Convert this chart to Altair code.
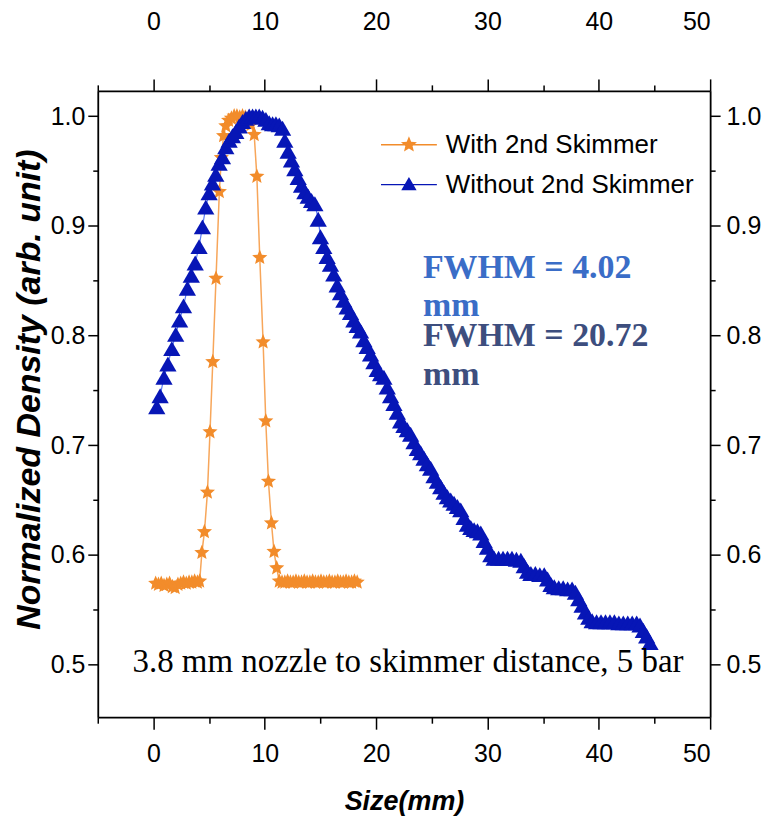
import altair as alt
import pandas as pd

# ---------------- data ----------------
with_x = [0.20, 0.45, 0.70, 0.95, 1.20, 1.45, 1.70, 1.95, 2.20, 2.45,
          2.70, 2.95, 3.20, 3.45, 3.70, 3.95, 4.15,
          4.35, 4.58, 4.85, 5.08, 5.33, 5.62, 5.92,
          6.10, 6.30, 6.50, 6.75, 7.00, 7.25, 7.50, 7.75, 8.00, 8.25, 8.50, 8.75,
          9.05, 9.29, 9.55, 9.85, 10.09, 10.33, 10.60, 10.83, 11.07,
          11.30, 11.55, 11.80, 12.05, 12.30, 12.55, 12.80, 13.05, 13.30, 13.55,
          13.80, 14.05, 14.30, 14.55, 14.80, 15.05, 15.30, 15.55, 15.80, 16.05,
          16.30, 16.55, 16.80, 17.05, 17.30, 17.55, 17.80, 18.05, 18.30]
with_y = [0.574, 0.573, 0.574, 0.572, 0.573, 0.574, 0.571, 0.570, 0.573, 0.574,
          0.575, 0.574, 0.575, 0.575, 0.576, 0.575, 0.576,
          0.602, 0.621, 0.657, 0.712, 0.776, 0.852, 0.931,
          0.962, 0.982, 0.991, 0.996, 0.998, 1.000, 1.000, 0.999, 1.000, 0.999, 0.996, 0.992,
          0.983, 0.945, 0.871, 0.794, 0.722, 0.667, 0.629, 0.603, 0.588,
          0.576, 0.575, 0.575, 0.576, 0.575, 0.575, 0.576, 0.575, 0.575, 0.576,
          0.575, 0.575, 0.576, 0.575, 0.575, 0.576, 0.575, 0.575, 0.576, 0.575,
          0.575, 0.576, 0.575, 0.575, 0.576, 0.575, 0.575, 0.576, 0.575]

without_x = [0.30, 0.60, 0.95, 1.30, 1.65, 2.00, 2.35, 2.70, 3.05, 3.40,
             3.75, 4.10, 4.40, 4.70, 5.00, 5.30, 5.60, 5.90, 6.20, 6.50,
             6.80, 7.10, 7.40, 7.70, 8.00, 8.30, 8.60, 8.90, 9.20, 9.50,
             9.80, 10.10, 10.40, 10.70, 11.00, 11.30, 11.60, 11.80, 12.10, 12.40,
             12.70, 13.00, 13.30, 13.60, 13.90, 14.20, 14.50, 14.80, 15.00, 15.30,
             15.60, 15.90, 16.20, 16.50, 16.80, 17.10, 17.40, 17.70, 18.00, 18.30,
             18.60, 18.90, 19.20, 19.50, 19.80, 20.10, 20.40, 20.70, 21.00, 21.30,
             21.60, 21.90, 22.20, 22.50, 22.80, 23.10, 23.40, 23.70, 24.00, 24.30,
             24.60, 24.90, 25.20, 25.50, 25.80, 26.10, 26.40, 26.70, 27.00, 27.30,
             27.60, 27.90, 28.20, 28.50, 28.80, 29.10, 29.40, 29.70, 30.00, 30.30,
             30.60, 31.00, 31.40, 31.80, 32.20, 32.60, 33.00, 33.30, 33.60, 33.90,
             34.30, 34.70, 35.10, 35.40, 35.70, 36.00, 36.40, 36.80, 37.20, 37.60,
             37.90, 38.20, 38.50, 38.80, 39.10, 39.40, 39.80, 40.20, 40.60, 41.00,
             41.40, 41.80, 42.20, 42.60, 43.00, 43.40, 43.70, 44.00, 44.30, 44.60]
without_y = [0.735, 0.745, 0.762, 0.774, 0.788, 0.801, 0.814, 0.827, 0.843, 0.855,
             0.866, 0.881, 0.899, 0.917, 0.930, 0.939, 0.947, 0.957, 0.963, 0.972,
             0.978, 0.982, 0.986, 0.991, 0.995, 0.998, 1.000, 1.000, 1.000, 1.000,
             0.999, 0.997, 0.994, 0.993, 0.993, 0.992, 0.989, 0.978, 0.968, 0.960,
             0.952, 0.944, 0.937, 0.931, 0.927, 0.923, 0.920, 0.906, 0.890, 0.881,
             0.872, 0.865, 0.856, 0.846, 0.839, 0.832, 0.826, 0.821, 0.814, 0.809,
             0.804, 0.796, 0.790, 0.783, 0.776, 0.769, 0.765, 0.762, 0.753, 0.745,
             0.738, 0.730, 0.722, 0.718, 0.714, 0.710, 0.703, 0.697, 0.693, 0.688,
             0.683, 0.679, 0.672, 0.667, 0.662, 0.657, 0.653, 0.650, 0.647, 0.644,
             0.641, 0.634, 0.628, 0.625, 0.623, 0.622, 0.620, 0.613, 0.607, 0.600,
             0.597, 0.597, 0.597, 0.597, 0.597, 0.596, 0.595, 0.590, 0.585, 0.583,
             0.583, 0.582, 0.582, 0.578, 0.573, 0.571, 0.570, 0.570, 0.569, 0.569,
             0.566, 0.560, 0.554, 0.548, 0.543, 0.540, 0.539, 0.539, 0.539, 0.539,
             0.539, 0.538, 0.538, 0.538, 0.538, 0.538, 0.536, 0.531, 0.526, 0.520]

series_names = ["With 2nd Skimmer", "Without 2nd Skimmer"]
x_major_ticks = [0, 10, 20, 30, 40, 50]
x_minor_ticks = [-5, 5, 15, 25, 35, 45]
y_major_ticks = [0.5, 0.6, 0.7, 0.8, 0.9, 1.0]
y_minor_ticks = [0.55, 0.65, 0.75, 0.85, 0.95]
x_domain = [-5, 50]
y_domain = [0.452, 1.023]

fwhm_text = ["FWHM = 4.02\nmm", "FWHM = 20.72\nmm"]
fwhm_x = [24.2, 24.2]
fwhm_y = [0.852, 0.790]
note_text = ["3.8 mm nozzle to skimmer distance, 5 bar"]
note_x = [22.86]
note_y = [0.493]

# ---------------- styles ----------------
ORANGE = "#F28C2B"
ORANGE_LINE = "#F7A65A"
BLUE = "#0716B6"
BLUE_LINE = "#5A7BF2"
FWHM_COLORS = ["#3A6DC7", "#3D4E7E"]
SANS = "Liberation Sans, Arial, sans-serif"
SERIF = "Liberation Serif, Times New Roman, serif"

STAR = ("M0,-1L0.2645,-0.3641L0.9511,-0.309L0.428,0.1391L0.5878,0.809L0,0.45"
        "L-0.5878,0.809L-0.428,0.1391L-0.9511,-0.309L-0.2645,-0.3641Z")
STAR_LEG = ("M-2,-0.05L2,-0.05L2,0.05L-2,0.05Z "
            "M0,-0.6L0.1587,-0.2184L0.5706,-0.1854L0.2568,0.0834L0.3527,0.4854"
            "L0,0.27L-0.3527,0.4854L-0.2568,0.0834L-0.5706,-0.1854L-0.1587,-0.2184Z")
TRI_LEG = "M-2,-0.05L2,-0.05L2,0.05L-2,0.05Z M0,-0.55L0.55,0.4L-0.55,0.4Z"

df_with = pd.DataFrame({"x": with_x, "y": with_y})
df_without = pd.DataFrame({"x": without_x, "y": without_y})

xs = alt.Scale(domain=x_domain, nice=False, zero=False)
ys = alt.Scale(domain=y_domain, nice=False, zero=False)

common_axis = dict(grid=False, domainColor="black", domainWidth=1.8, tickColor="black",
                   tickWidth=1.5, labelColor="black", labelFont=SANS, labelFontSize=25)


def x_major(orient, pad):
    return alt.Axis(orient=orient, values=x_major_ticks, tickSize=12, labelPadding=pad,
                    titleFont=SANS, titleFontSize=27, titleFontWeight="bold",
                    titleFontStyle="italic", titleColor="black", titlePadding=23, **common_axis)


def x_minor(orient):
    return alt.Axis(orient=orient, values=x_minor_ticks, tickSize=6, labels=False,
                    domain=False, grid=False, tickColor="black", tickWidth=1.5)


def y_major(orient, pad):
    return alt.Axis(orient=orient, values=y_major_ticks, format=".1f", tickSize=10,
                    labelPadding=pad, titleFont=SANS, titleFontSize=34, titleFontWeight="bold",
                    titleFontStyle="italic", titleColor="black", titlePadding=4,
                    titleLimit=700, titleY=299, **common_axis)


def y_minor(orient):
    return alt.Axis(orient=orient, values=y_minor_ticks, tickSize=5, labels=False,
                    domain=False, grid=False, tickColor="black", tickWidth=1.5)


no_x = alt.X("x:Q", scale=xs, axis=None)
no_y = alt.Y("y:Q", scale=ys, axis=None)

line_with = alt.Chart(df_with).mark_line(color=ORANGE_LINE, strokeWidth=1.5).encode(
    x=alt.X("x:Q", scale=xs, axis=x_minor("bottom"), title=None),
    y=alt.Y("y:Q", scale=ys, axis=y_minor("left"), title=None),
)
pts_with = alt.Chart(df_with).mark_point(shape=STAR, filled=True, size=256, color=ORANGE,
                                         opacity=1).encode(
    x=alt.X("x:Q", scale=xs, axis=x_major("bottom", 12), title="Size(mm)"),
    y=alt.Y("y:Q", scale=ys, axis=y_major("left", 3), title="Normalized Density (arb. unit)"),
)
line_without = alt.Chart(df_without).mark_line(color=BLUE_LINE, strokeWidth=1.2).encode(
    x=alt.X("x:Q", scale=xs, axis=x_minor("top"), title=None),
    y=alt.Y("y:Q", scale=ys, axis=y_minor("right"), title=None),
)
pts_without = alt.Chart(df_without).mark_point(shape="triangle-up", filled=True, size=300,
                                               color=BLUE, opacity=1).encode(
    x=alt.X("x:Q", scale=xs, axis=x_major("top", 45), title=None),
    y=alt.Y("y:Q", scale=ys, axis=y_major("right", 6), title=None),
)

leg = alt.Legend(orient="none", legendX=298, legendY=40, title=None, labelFont=SANS,
                 labelFontSize=26, labelColor="black", labelLimit=600, symbolSize=784,
                 labelOffset=23, rowPadding=13, padding=0, symbolStrokeWidth=0)
legend_layer = alt.Chart(pd.DataFrame({"series": series_names})).mark_point(
    filled=True, opacity=1).encode(
    color=alt.Color("series:N", scale=alt.Scale(domain=series_names, range=[ORANGE, BLUE]), legend=leg),
    shape=alt.Shape("series:N", scale=alt.Scale(domain=series_names, range=[STAR_LEG, TRI_LEG]), legend=leg),
).transform_filter("false")

fwhm1 = alt.Chart(pd.DataFrame({"x": fwhm_x[:1], "y": fwhm_y[:1], "t": fwhm_text[:1]})).mark_text(
    font=SERIF, fontSize=34, fontWeight="bold", color=FWHM_COLORS[0], align="left",
    baseline="alphabetic", lineBreak="\n", lineHeight=38).encode(x=no_x, y=no_y, text="t:N")
fwhm2 = alt.Chart(pd.DataFrame({"x": fwhm_x[1:], "y": fwhm_y[1:], "t": fwhm_text[1:]})).mark_text(
    font=SERIF, fontSize=34, fontWeight="bold", color=FWHM_COLORS[1], align="left",
    baseline="alphabetic", lineBreak="\n", lineHeight=39).encode(x=no_x, y=no_y, text="t:N")
note = alt.Chart(pd.DataFrame({"x": note_x, "y": note_y, "t": note_text})).mark_text(
    font=SERIF, fontSize=33, color="black", align="center", baseline="alphabetic").encode(
    x=no_x, y=no_y, text="t:N")

chart = alt.layer(
    line_with, pts_with, line_without, pts_without, fwhm1, fwhm2, note, legend_layer
).resolve_axis(x="independent", y="independent").properties(
    width=614, height=628,
    padding={"left": 90, "top": 82, "right": 55, "bottom": 108},
    autosize=alt.AutoSizeParams(type="none"),
    background="white",
).configure_view(strokeWidth=0)

chart.save("out.html", embed_options={"renderer": "svg", "actions": False})
